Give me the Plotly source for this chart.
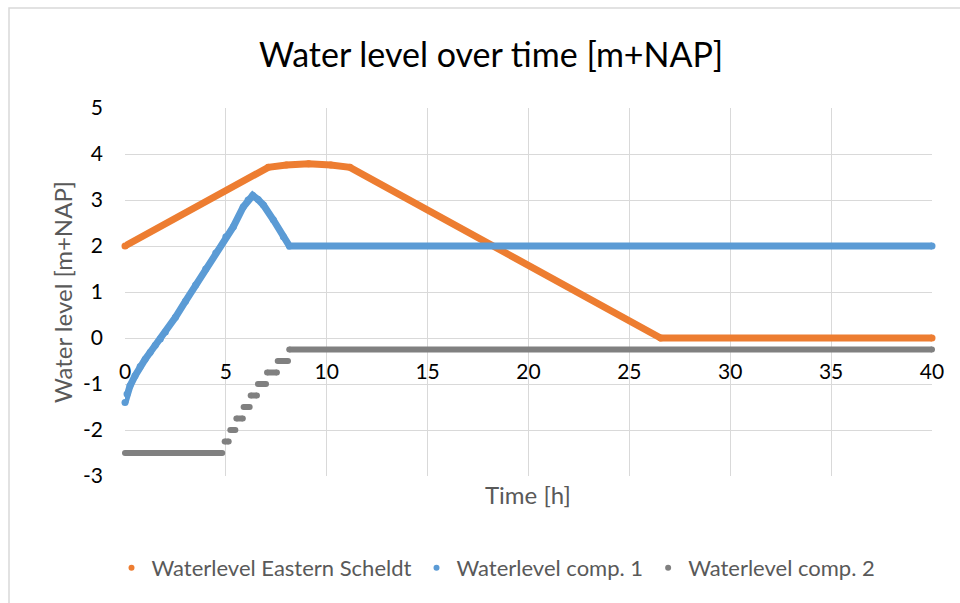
import plotly.graph_objects as go

# ---------------- data ----------------
time_es = [0, 7.1, 8.0, 9.1, 10.2, 11.15, 26.55, 40]
level_es = [2.0, 3.71, 3.76, 3.79, 3.76, 3.71, 0.0, 0.0]

time_c1 = [0, 0.1, 0.25, 0.5, 0.75, 1.0, 1.25, 1.5, 1.75, 2.0, 2.5, 3.0, 3.5, 4.0, 4.5,
           5.0, 5.37, 5.86, 6.1, 6.33, 6.6, 6.86, 7.35, 7.85, 8.15, 40]
level_c1 = [-1.4, -1.22, -1.04, -0.82, -0.62, -0.46, -0.31, -0.16, -0.02, 0.13, 0.45, 0.8,
            1.15, 1.5, 1.85, 2.2, 2.42, 2.85, 3.0, 3.1, 3.01, 2.89, 2.57, 2.2, 2.0, 2.0]

c2_levels = [-2.5, -2.25, -2.0, -1.75, -1.5, -1.25, -1.0, -0.75, -0.5, -0.25]
c2_start = [0, 4.94, 5.22, 5.52, 5.88, 6.23, 6.59, 7.04, 7.57, 8.14]
c2_end = [4.82, 5.14, 5.47, 5.84, 6.18, 6.54, 6.99, 7.53, 8.08, 40]

names = ["Waterlevel Eastern Scheldt", "Waterlevel comp. 1", "Waterlevel comp. 2"]
colors = ["#ED7D31", "#5B9BD5", "#808080"]

x_ticks = [0, 5, 10, 15, 20, 25, 30, 35, 40]
y_ticks = [-3, -2, -1, 0, 1, 2, 3, 4, 5]

# ---------------- figure ----------------
W, H = 960, 603
L, R, T, B = 125, 28, 108, 127
pw, ph = W - L - R, H - T - B

def px_x(p):
    return (p - L) / pw

def px_y(p):
    return (H - B - p) / ph

FONT = "Lato"
fig = go.Figure()

lw = 7
fig.add_trace(go.Scatter(x=time_es, y=level_es, mode="lines+markers",
                         line=dict(color=colors[0], width=lw),
                         marker=dict(color=colors[0], size=lw, line=dict(width=0)),
                         showlegend=False, cliponaxis=False, hoverinfo="skip"))
fig.add_trace(go.Scatter(x=time_c1, y=level_c1, mode="lines+markers",
                         line=dict(color=colors[1], width=lw),
                         marker=dict(color=colors[1], size=lw, line=dict(width=0)),
                         showlegend=False, cliponaxis=False, hoverinfo="skip"))

gx, gy = [], []
for lv, s, e in zip(c2_levels, c2_start, c2_end):
    gx += [s, e, None]
    gy += [lv, lv, None]
fig.add_trace(go.Scatter(x=gx, y=gy, mode="lines+markers", connectgaps=False,
                         line=dict(color=colors[2], width=6),
                         marker=dict(color=colors[2], size=6, line=dict(width=0)),
                         showlegend=False, cliponaxis=False, hoverinfo="skip"))

for n, c in zip(names, colors):
    fig.add_trace(go.Scatter(x=[None], y=[None], mode="markers", name=n,
                             marker=dict(color=c, size=6)))

grid = "#D9D9D9"
fig.update_layout(
    width=W, height=H,
    margin=dict(l=L, r=R, t=T, b=B),
    paper_bgcolor="white", plot_bgcolor="white",
    font=dict(family=FONT, color="#000000"),
    title=dict(text="Water level over time [m+NAP]", x=491 / W, xref="container",
               xanchor="center", y=1 - 55 / H, yref="container", yanchor="middle",
               font=dict(size=34, color="#000000", family=FONT)),
    xaxis=dict(range=[0, 40], tickvals=x_ticks, ticktext=[str(v) for v in x_ticks],
               showgrid=True, gridcolor=grid, gridwidth=1, zeroline=False,
               showline=False, anchor="free", position=3 / 8,
               ticks="", ticklabelstandoff=19,
               tickfont=dict(size=21, color="#000000", family=FONT)),
    yaxis=dict(range=[-3, 5], tickvals=y_ticks, ticktext=[str(v) for v in y_ticks],
               showgrid=True, gridcolor=grid, gridwidth=1, zeroline=False,
               showline=False, ticks="", ticklabelstandoff=21,
               tickfont=dict(size=21, color="#000000", family=FONT)),
    legend=dict(orientation="h", x=px_x(496), xanchor="center", y=px_y(568),
                yanchor="middle", font=dict(size=22, color="#595959", family=FONT),
                bgcolor="rgba(0,0,0,0)"),
    shapes=[dict(type="rect", xref="paper", yref="paper",
                 x0=px_x(9), x1=px_x(975), y0=px_y(620), y1=px_y(8),
                 line=dict(color=grid, width=1.5), fillcolor="rgba(0,0,0,0)", layer="below")],
    annotations=[
        dict(text="Water level [m+NAP]", xref="paper", yref="paper", x=px_x(62), y=px_y(292),
             textangle=-90, showarrow=False, xanchor="center", yanchor="middle",
             font=dict(size=24, color="#595959", family=FONT)),
        dict(text="Time [h]", xref="paper", yref="paper", x=px_x(528), y=px_y(494),
             showarrow=False, xanchor="center", yanchor="middle",
             font=dict(size=24, color="#595959", family=FONT)),
    ],
)

fig.write_html("out.html")
